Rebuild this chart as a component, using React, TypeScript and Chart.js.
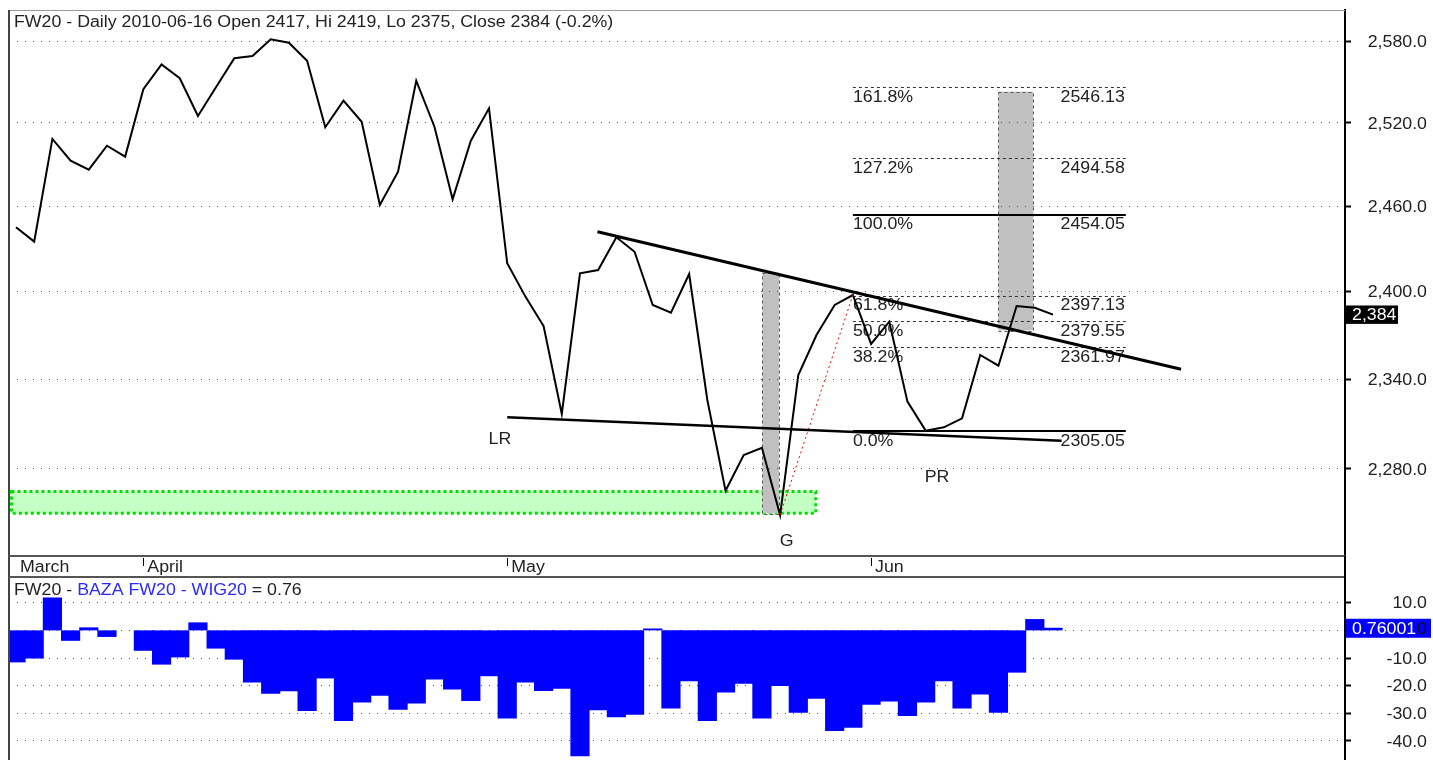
import React, { useEffect, useRef } from "react";
import { Chart, registerables } from "chart.js";
Chart.register(...registerables);

// ---------- data ----------
const titleText = "FW20 - Daily 2010-06-16 Open 2417, Hi 2419, Lo 2375, Close 2384 (-0.2%)";
const lowerTitleParts = ["FW20 - ", "BAZA FW20 - WIG20", " = 0.76"];

const prices = [
  2445.0, 2434.9, 2508.3, 2492.6, 2486.1, 2503.4, 2495.5, 2544.6, 2563.0, 2552.7,
  2525.0, 2546.3, 2567.5, 2569.2, 2581.6, 2579.1, 2565.7, 2516.8, 2536.2, 2520.8,
  2460.9, 2484.7, 2550.9, 2517.2, 2464.9, 2507.0, 2530.6, 2419.7, 2396.5, 2376.2,
  2316.6, 2412.7, 2415.0, 2438.0, 2427.8, 2390.7, 2385.4, 2412.2, 2325.9, 2265.7,
  2289.2, 2294.0, 2249.8, 2342.8, 2370.0, 2390.7, 2397.6, 2363.9, 2379.2, 2324.8,
  2305.4, 2307.6, 2313.6, 2356.4, 2349.1, 2390.0, 2388.8, 2384.0,
];

const diffs = [
  -11.4, -10.0, 11.7, -3.6, 0.9, -2.2, null, -7.2, -12.2, -9.6,
  2.7, -6.4, -10.4, -18.7, -22.7, -21.8, -29.0, -17.2, -32.6, -25.9,
  -23.5, -28.5, -26.3, -17.6, -21.2, -25.4, -16.4, -31.7, -18.7, -21.7,
  -20.9, -45.3, -28.7, -31.2, -30.3, 0.5, -28.1, -18.2, -32.6, -22.3,
  -19.1, -31.7, -19.9, -29.6, -24.5, -36.2, -35.0, -26.7, -25.5, -30.8,
  -25.9, -18.2, -28.1, -23.0, -29.6, -15.1, 3.9, 0.76,
];
const diffMarkerText = "0.76001";

const monthLabels = ["March", "April", "May", "Jun"];
const monthIdx = [0, 7, 27, 47];
const monthTickShown = [false, true, true, true];

const priceTicks = [2280, 2340, 2400, 2460, 2520, 2580];
const diffTicks = [10, 0, -10, -20, -30, -40];

// annotations, in (bar index, value) coordinates
const upperTrend = [[31.96, 2441.9], [64.04, 2346.7]];
const lowerTrend = [[27.0, 2314.3], [57.47, 2298.7]];
const fibPercents = [161.8, 127.2, 100.0, 61.8, 50.0, 38.2, 0.0];
const fibValues = [2546.13, 2494.58, 2454.05, 2397.13, 2379.55, 2361.97, 2305.05];
const fibSolid = [false, false, true, false, false, false, true];
const fibRange = [46, 61];
const grayBoxes = [
  [41.03, 41.94, 2250.9, 2413.2],
  [54.0, 55.9, 2373.2, 2542.8],
];
const greenBox = [-0.44, 43.96, 2250.9, 2265.1];
const redLine = [[42, 2249.8], [46, 2397.6]];
const chartLabels = ["LR", "G", "PR"];
const chartLabelIdx = [26.6, 42.36, 50.63];
const chartLabelVal = [2300.5, 2233.6, 2275.4];

// ---------- style ----------
const FONT = '"Liberation Sans", Arial, sans-serif';
const FS = 16;
const SX = 1.11;
const X_MIN = -0.385;
const X_MAX = 73.05;
const TEXT = "#222";

function drawText(ctx: any, s: string, x: number, cy: number, align: string, color: string) {
  ctx.save();
  ctx.font = `${FS}px ${FONT}`;
  ctx.fillStyle = color;
  ctx.textAlign = "left";
  ctx.textBaseline = "alphabetic";
  ctx.setLineDash([]);
  const w = ctx.measureText(s).width * SX;
  const left = align === "left" ? x : align === "right" ? x - w : x - w / 2;
  ctx.translate(left, cy + FS * 0.358);
  ctx.scale(SX, 1);
  ctx.fillText(s, 0, 0);
  ctx.restore();
  return w;
}

function line(ctx: any, x1: number, y1: number, x2: number, y2: number, color: string, w: number, dash: number[] = []) {
  ctx.save();
  ctx.strokeStyle = color;
  ctx.lineWidth = w;
  ctx.setLineDash(dash);
  ctx.beginPath();
  ctx.moveTo(x1, y1);
  ctx.lineTo(x2, y2);
  ctx.stroke();
  ctx.restore();
}

const fmtPrice = (v: number) =>
  v.toLocaleString("en-US", { minimumFractionDigits: 1, maximumFractionDigits: 1 });

const indexTicks = (s: any) => {
  s.ticks = prices.map((_, i) => ({ value: i }));
};

const upperPlugin = {
  id: "upperDecor",
  beforeDraw(chart: any) {
    const { ctx, scales } = chart;
    const px = (i: number) => scales.x.getPixelForValue(i);
    const py = (v: number) => scales.y.getPixelForValue(v);
    ctx.save();
    // green zone
    {
      const l = Math.max(px(greenBox[0]), chart.chartArea.left + 1);
      const r = px(greenBox[1]);
      const t = py(greenBox[3]);
      const b = py(greenBox[2]);
      ctx.fillStyle = "#c4ffc4";
      ctx.fillRect(l, t, r - l, b - t);
      ctx.strokeStyle = "#00e000";
      ctx.lineWidth = 3;
      ctx.setLineDash([3, 3]);
      ctx.strokeRect(l + 1.5, t, r - l - 1.5, b - t);
    }
    // gray boxes
    for (const [a0, a1, v0, v1] of grayBoxes) {
      const l = px(a0), r = px(a1), t = py(v1), b = py(v0);
      ctx.fillStyle = "#c0c0c0";
      ctx.setLineDash([]);
      ctx.fillRect(l, t, r - l, b - t);
      ctx.strokeStyle = "#555";
      ctx.lineWidth = 1;
      ctx.setLineDash([3, 3]);
      ctx.strokeRect(Math.round(l) + 0.5, Math.round(t) + 0.5, Math.round(r - l), Math.round(b - t));
    }
    ctx.restore();
  },
  beforeDatasetsDraw(chart: any) {
    const { ctx, scales } = chart;
    const px = (i: number) => scales.x.getPixelForValue(i);
    const py = (v: number) => scales.y.getPixelForValue(v);
    const x0 = px(fibRange[0]);
    const x1 = px(fibRange[1]);
    fibValues.forEach((v, k) => {
      const y = py(v);
      if (fibSolid[k]) line(ctx, x0, Math.round(y), x1, Math.round(y), "#000", 2);
      else line(ctx, x0, Math.round(y) + 0.5, x1, Math.round(y) + 0.5, "#333", 1, [3, 3]);
      drawText(ctx, fibPercents[k].toFixed(1) + "%", x0, y + 9, "left", TEXT);
      drawText(ctx, v.toFixed(2), x1 - 1, y + 9, "right", TEXT);
    });
  },
  afterDatasetsDraw(chart: any) {
    const { ctx, scales } = chart;
    const px = (i: number) => scales.x.getPixelForValue(i);
    const py = (v: number) => scales.y.getPixelForValue(v);
    line(ctx, px(redLine[0][0]), py(redLine[0][1]), px(redLine[1][0]), py(redLine[1][1]), "#ff0000", 1, [2, 3]);
    line(ctx, px(upperTrend[0][0]), py(upperTrend[0][1]), px(upperTrend[1][0]), py(upperTrend[1][1]), "#000", 3);
    line(ctx, px(lowerTrend[0][0]), py(lowerTrend[0][1]), px(lowerTrend[1][0]), py(lowerTrend[1][1]), "#000", 2.5);
    chartLabels.forEach((s, k) => {
      drawText(ctx, s, px(chartLabelIdx[k]), py(chartLabelVal[k]), "center", TEXT);
    });
  },
  afterDraw(chart: any) {
    const { ctx, scales, chartArea } = chart;
    const px = (i: number) => scales.x.getPixelForValue(i);
    const py = (v: number) => scales.y.getPixelForValue(v);
    const L = chartArea.left, R = chartArea.right, T = chartArea.top, B = chartArea.bottom;
    // frame
    line(ctx, L, T + 0.5, R, T + 0.5, "#999", 1);
    line(ctx, L, T, L, 578, "#444", 2);
    line(ctx, L, B, R, B, "#555", 2);
    line(ctx, L, 577, R, 577, "#555", 2);
    line(ctx, R, B, R, 578, "#000", 2);
    // month axis
    monthLabels.forEach((m, k) => {
      const x = px(monthIdx[k]);
      if (monthTickShown[k]) line(ctx, Math.round(x) + 0.5, 558, Math.round(x) + 0.5, 566, "#000", 1);
      drawText(ctx, m, x + 4, 566, "left", TEXT);
    });
    // title
    drawText(ctx, titleText, 14, 21.5, "left", TEXT);
    // price axis labels
    priceTicks.forEach((v) => drawText(ctx, fmtPrice(v), 1427, py(v), "right", TEXT));
    // last close marker
    const last = prices[prices.length - 1];
    const y = py(last);
    ctx.save();
    ctx.fillStyle = "#000";
    ctx.fillRect(R, y - 9.2, 53, 18.4);
    ctx.restore();
    drawText(ctx, fmtPrice(last).replace(/\.0$/, ""), 1352, y, "left", "#fff");
  },
};

const lowerPlugin = {
  id: "lowerDecor",
  afterDraw(chart: any) {
    const { ctx, scales, chartArea } = chart;
    const py = (v: number) => scales.y.getPixelForValue(v);
    const L = chartArea.left, R = chartArea.right;
    line(ctx, L, 0, L, chart.height, "#444", 2);
    line(ctx, R, 0, R, chart.height, "#000", 2);
    // title
    let x = 14;
    const colors = [TEXT, "#2a2aff", TEXT];
    lowerTitleParts.forEach((s, k) => {
      x += drawText(ctx, s, x, 10.8, "left", colors[k]);
    });
    diffTicks.forEach((v) => drawText(ctx, v.toFixed(1), 1427, py(v), "right", TEXT));
    const lastVal = diffs[diffs.length - 1] as number;
    const y = py(lastVal);
    ctx.save();
    ctx.fillStyle = "#0000ff";
    ctx.fillRect(R + 1, y - 9.5, 85, 19);
    ctx.restore();
    drawText(ctx, diffMarkerText, 1352, y, "left", "#fff");
    drawText(ctx, "0", 1427, y, "right", "#111");
  },
};

export default function App() {
  const upRef = useRef<HTMLCanvasElement>(null);
  const loRef = useRef<HTMLCanvasElement>(null);

  useEffect(() => {
    const up = new Chart(upRef.current as HTMLCanvasElement, {
      type: "line",
      data: {
        datasets: [
          {
            data: prices.map((v, i) => ({ x: i, y: v })),
            borderColor: "#000",
            borderWidth: 2,
            pointRadius: 0,
            tension: 0,
            fill: false,
          },
        ],
      },
      options: {
        responsive: false,
        animation: false,
        devicePixelRatio: 1,
        events: [],
        layout: { padding: { left: 9, top: 10, right: 0, bottom: 22 } },
        plugins: { legend: { display: false }, tooltip: { enabled: false }, title: { display: false } },
        scales: {
          x: { type: "linear", min: X_MIN, max: X_MAX, display: false, bounds: "data", afterBuildTicks: indexTicks },
          y: {
            type: "logarithmic",
            position: "right",
            min: 2223.3,
            max: 2603.6,
            bounds: "data",
            afterBuildTicks: (s: any) => {
              s.ticks = priceTicks.map((v) => ({ value: v }));
            },
            afterFit: (s: any) => {
              s.width = 88;
            },
            ticks: { display: false },
            grid: { color: "#555", lineWidth: 1, drawTicks: true, tickLength: 6, tickColor: "#000", tickWidth: 2 },
            border: { display: true, color: "#000", width: 2, dash: [1, 7] },
          },
        },
      } as any,
      plugins: [upperPlugin],
    });

    const lo = new Chart(loRef.current as HTMLCanvasElement, {
      type: "bar",
      data: {
        datasets: [
          {
            data: diffs.map((v, i) => ({ x: i, y: v })),
            backgroundColor: "#0000ff",
            borderWidth: 0,
            barPercentage: 1,
            categoryPercentage: 1,
            inflateAmount: 0.5,
          },
        ],
      },
      options: {
        responsive: false,
        animation: false,
        devicePixelRatio: 1,
        events: [],
        layout: { padding: { left: 9, top: 0, right: 0, bottom: 0 } },
        plugins: { legend: { display: false }, tooltip: { enabled: false }, title: { display: false } },
        scales: {
          x: {
            type: "linear",
            min: X_MIN,
            max: X_MAX,
            display: false,
            offset: false,
            bounds: "data",
            grid: { offset: false },
            afterBuildTicks: indexTicks,
          },
          y: {
            type: "linear",
            position: "right",
            min: -46.87,
            max: 18.93,
            bounds: "data",
            afterBuildTicks: (s: any) => {
              s.ticks = diffTicks.map((v) => ({ value: v }));
            },
            afterFit: (s: any) => {
              s.width = 88;
            },
            ticks: { display: false },
            grid: { color: "#555", lineWidth: 1, drawTicks: true, tickLength: 6, tickColor: "#000", tickWidth: 2, z: -1 },
            border: { display: true, color: "#000", width: 2, dash: [1, 7] },
          },
        },
      } as any,
      plugins: [lowerPlugin],
    });

    return () => {
      up.destroy();
      lo.destroy();
    };
  }, []);

  return (
    <div style={{ position: "fixed", left: 0, top: 0, width: 1433, height: 760, background: "#fff", overflow: "hidden" }}>
      <canvas
        ref={upRef}
        width={1433}
        height={578}
        style={{ position: "absolute", left: 0, top: 0, width: 1433, height: 578 }}
      />
      <canvas
        ref={loRef}
        width={1433}
        height={182}
        style={{ position: "absolute", left: 0, top: 578, width: 1433, height: 182 }}
      />
    </div>
  );
}
